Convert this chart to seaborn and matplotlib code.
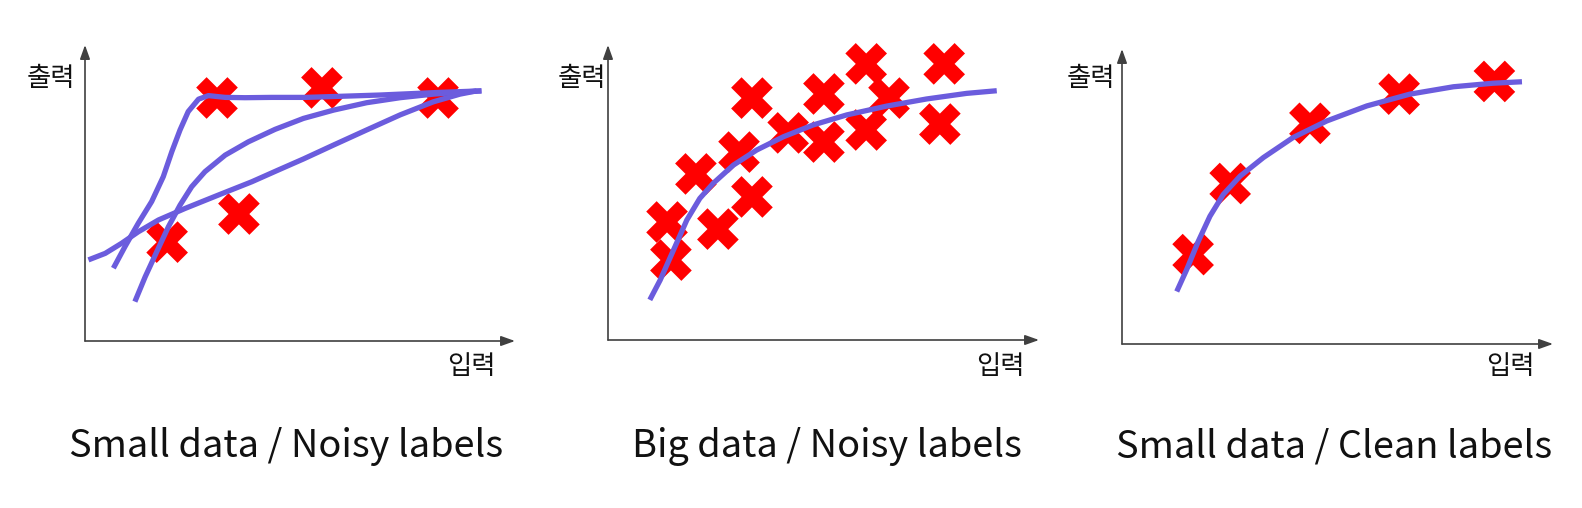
import numpy as np
import pandas as pd
import matplotlib
matplotlib.use("Agg")
import matplotlib.pyplot as plt
import seaborn as sns

# ---------------- data (values in arbitrary 0-10 units) ----------------
titles = ["Small data / Noisy labels", "Big data / Noisy labels", "Small data / Clean labels"]
x_label = "입력"
y_label = "출력"

# Panel 1: small data, noisy labels
p1_pts_x = [3.07, 5.51, 8.21, 3.58, 1.91]
p1_pts_y = [8.21, 8.55, 8.21, 4.29, 3.34]
p1_curveA_x = [0.66, 0.93, 1.24, 1.55, 1.82, 2.02, 2.21, 2.40, 2.64, 2.87, 3.26, 3.72,
               4.34, 5.12, 5.58, 6.86, 8.26, 9.22]
p1_curveA_y = [2.46, 3.19, 3.98, 4.71, 5.55, 6.40, 7.13, 7.75, 8.17, 8.29, 8.23, 8.22,
               8.23, 8.23, 8.25, 8.31, 8.40, 8.45]
p1_curveB_x = [1.16, 1.40, 1.67, 1.94, 2.21, 2.48, 2.79, 3.26, 3.80, 4.42, 5.08, 5.78,
               6.55, 7.33, 8.10, 8.88, 9.22]
p1_curveB_y = [1.33, 2.17, 3.02, 3.86, 4.59, 5.21, 5.72, 6.28, 6.73, 7.15, 7.52, 7.80,
               8.05, 8.22, 8.34, 8.42, 8.45]
p1_curveC_x = [0.08, 0.47, 0.85, 1.24, 1.71, 2.33, 3.10, 3.88, 4.50, 5.08, 5.78, 6.55,
               7.33, 8.10, 8.72, 9.11]
p1_curveC_y = [2.74, 2.96, 3.30, 3.69, 4.09, 4.48, 4.93, 5.38, 5.78, 6.15, 6.62, 7.13,
               7.64, 8.08, 8.34, 8.45]

# Panel 2: big data, noisy labels
p2_pts_x = [1.37, 1.46, 2.04, 2.55, 3.04, 3.34, 3.34, 4.18, 5.01, 5.01, 5.99, 5.99, 6.52, 7.80, 7.70]
p2_pts_y = [4.00, 2.71, 5.63, 3.76, 6.37, 8.20, 4.85, 7.02, 8.34, 6.71, 9.36, 7.12, 8.20, 9.36, 7.32]
p2_curve_x = [0.97, 1.21, 1.52, 1.83, 2.13, 2.44, 2.91, 3.45, 4.07, 4.76, 5.54, 6.47,
              7.39, 8.32, 9.02]
p2_curve_y = [1.36, 2.03, 3.05, 4.07, 4.80, 5.31, 5.93, 6.44, 6.89, 7.29, 7.63, 7.93,
              8.17, 8.36, 8.45]

# Panel 3: small data, clean labels
p3_pts_x = [1.65, 2.51, 4.36, 6.43, 8.64]
p3_pts_y = [3.03, 5.44, 7.48, 8.47, 8.90]
p3_curve_x = [1.27, 1.50, 1.77, 2.04, 2.35, 2.74, 3.28, 3.97, 4.75, 5.68, 6.68, 7.69,
              8.61, 9.28]
p3_curve_y = [1.78, 2.52, 3.48, 4.33, 5.07, 5.69, 6.32, 7.00, 7.56, 8.07, 8.47, 8.72,
              8.84, 8.89]

# ---------------- styling ----------------
sns.set_theme(style="white")
plt.rcParams["font.family"] = ["Noto Sans CJK KR", "DejaVu Sans"]

RED = "#ff0000"
PURPLE = "#6b5cdd"
AXCOL = "#404040"
W, H = 1582, 508

fig = plt.figure(figsize=(W / 100, H / 100), dpi=100)
fig.patch.set_facecolor("white")

# (origin x px, origin y px, x-arrow tip px, y-arrow tip px)
frames = [(85, 341, 515, 45), (608, 340, 1039, 45), (1122, 344, 1553, 49)]
ylab_off = [(-10, 79), (-2, 79), (-7, 79)]
xlab_off = [(-19, 367), (-14, 367), (-18, 367)]
title_cx = [286, 827, 1334]

panels = [
    (p1_pts_x, p1_pts_y, [(p1_curveA_x, p1_curveA_y), (p1_curveB_x, p1_curveB_y), (p1_curveC_x, p1_curveC_y)]),
    (p2_pts_x, p2_pts_y, [(p2_curve_x, p2_curve_y)]),
    (p3_pts_x, p3_pts_y, [(p3_curve_x, p3_curve_y)]),
]

for i, ((x0, y0, xt, yt), (px_, py_, curves)) in enumerate(zip(frames, panels)):
    ax = fig.add_axes([x0 / W, (H - y0) / H, (xt - x0) / W, (y0 - yt) / H])
    ax.set_xlim(0, 10)
    ax.set_ylim(0, 10)
    ax.set_axis_off()

    pts = pd.DataFrame({"x": px_, "y": py_})
    sns.scatterplot(data=pts, x="x", y="y", marker="X", s=900, color=RED,
                    edgecolor="none", linewidth=0, ax=ax, zorder=2, clip_on=False)
    for cx, cy in curves:
        cdf = pd.DataFrame({"x": cx, "y": cy})
        sns.lineplot(data=cdf, x="x", y="y", sort=False, estimator=None, color=PURPLE,
                     linewidth=3.8, ax=ax, zorder=3, solid_capstyle="butt",
                     solid_joinstyle="round", clip_on=False)

    arrow = dict(arrowstyle="-|>,head_length=0.7,head_width=0.25", color=AXCOL,
                 lw=1.2, shrinkA=0, shrinkB=0)
    ax.annotate("", xy=(1, 0), xytext=(0, 0), xycoords="axes fraction",
                arrowprops=arrow, annotation_clip=False)
    ax.annotate("", xy=(0, 1), xytext=(0, 0), xycoords="axes fraction",
                arrowprops=arrow, annotation_clip=False)

    ox, oy = ylab_off[i]
    fig.text((x0 + ox) / W, 1 - oy / H, y_label, ha="right", va="center",
             fontsize=19, color="#111111")
    ox, oy = xlab_off[i]
    fig.text((xt + ox) / W, 1 - oy / H, x_label, ha="right", va="center",
             fontsize=19, color="#111111")

    fig.text(title_cx[i] / W, 1 - 457 / H, titles[i], ha="center", va="baseline",
             fontsize=27.3, fontweight="light", color="#111111")

fig.savefig("out.png", dpi=100, facecolor="white")
